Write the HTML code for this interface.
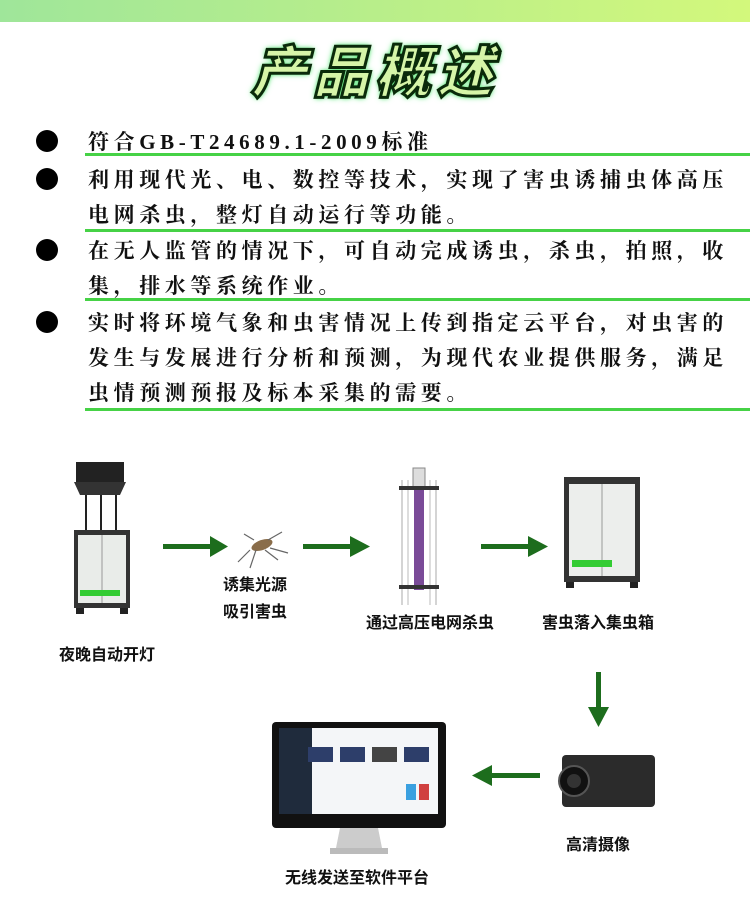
<!DOCTYPE html>
<html><head><meta charset="utf-8"><style>
body{margin:0;width:750px;height:922px;background:#fff;position:relative;overflow:hidden;font-family:"Liberation Sans","Noto Sans CJK SC",sans-serif}
.a{position:absolute}
.bar{left:0;top:0;width:750px;height:22px;background:linear-gradient(90deg,#9fe69a,#b8ee8a 50%,#d3f87c)}
.title{left:0;width:750px;top:28px;text-align:center;font-size:56px;font-weight:900;color:#d6f5a8;letter-spacing:6px;font-family:"Noto Sans CJK SC",sans-serif;font-style:italic;-webkit-text-stroke:3px #0a2a0a;text-shadow:0 0 4px #3ee060,0 0 7px #3ee060}
.dot{width:22px;height:22px;border-radius:50%;background:#000;left:36px}
.t{left:88px;font-size:21px;font-weight:bold;letter-spacing:4.6px;color:#111;font-family:"Liberation Serif","Noto Serif CJK SC",serif;white-space:nowrap}
.ul{left:85px;width:665px;height:3px;background:#46d246}
.lab{font-size:16px;font-weight:bold;color:#111;white-space:nowrap;font-family:"Liberation Sans","Noto Sans CJK SC",sans-serif}
</style></head><body>
<div class="a bar"></div>
<div class="a title">产品概述</div>

<div class="a dot" style="top:130px"></div>
<div class="a t" style="top:126px">符合GB-T24689.1-2009标准</div>
<div class="a ul" style="top:153px"></div>

<div class="a dot" style="top:168px"></div>
<div class="a t" style="top:164px">利用现代光、电、数控等技术，实现了害虫诱捕虫体高压</div>
<div class="a t" style="top:199px">电网杀虫，整灯自动运行等功能。</div>
<div class="a ul" style="top:229px"></div>

<div class="a dot" style="top:239px"></div>
<div class="a t" style="top:235px">在无人监管的情况下，可自动完成诱虫，杀虫，拍照，收</div>
<div class="a t" style="top:270px">集，排水等系统作业。</div>
<div class="a ul" style="top:298px"></div>

<div class="a dot" style="top:311px"></div>
<div class="a t" style="top:307px">实时将环境气象和虫害情况上传到指定云平台，对虫害的</div>
<div class="a t" style="top:342px">发生与发展进行分析和预测，为现代农业提供服务，满足</div>
<div class="a t" style="top:377px">虫情预测预报及标本采集的需要。</div>
<div class="a ul" style="top:408px"></div>

<svg class="a" style="left:0;top:440px" width="750" height="482" viewBox="0 440 750 482">
 <!-- lamp device -->
 <rect x="76" y="462" width="48" height="20" fill="#222"/>
 <polygon points="74,482 126,482 120,495 80,495" fill="#333"/>
 <line x1="86" y1="495" x2="86" y2="530" stroke="#222" stroke-width="2"/>
 <line x1="101" y1="495" x2="101" y2="530" stroke="#222" stroke-width="2"/>
 <line x1="116" y1="495" x2="116" y2="530" stroke="#222" stroke-width="2"/>
 <rect x="74" y="530" width="56" height="78" fill="#333"/>
 <rect x="78" y="535" width="48" height="68" fill="#e9ece9"/>
 <line x1="102" y1="535" x2="102" y2="603" stroke="#999"/>
 <rect x="80" y="590" width="40" height="6" fill="#3c3"/>
 <rect x="76" y="608" width="8" height="6" fill="#222"/><rect x="120" y="608" width="8" height="6" fill="#222"/>
 <!-- arrows -->
 <g fill="#1d6d1d">
  <rect x="163" y="544" width="50" height="5"/><polygon points="210,536 228,546.5 210,557"/>
  <rect x="303" y="544" width="50" height="5"/><polygon points="350,536 370,546.5 350,557"/>
  <rect x="481" y="544" width="50" height="5"/><polygon points="528,536 548,546.5 528,557"/>
  <rect x="596" y="672" width="5" height="40"/><polygon points="588,707 598.5,727 609,707"/>
  <rect x="490" y="773" width="50" height="5"/><polygon points="492,765 472,775.5 492,786"/>
 </g>
 <!-- mosquito -->
 <g stroke="#666" stroke-width="1.2" fill="none">
  <ellipse cx="262" cy="545" rx="11" ry="5" fill="#8a6d4a" stroke="none" transform="rotate(-20 262 545)"/>
  <path d="M250 550 L238 562 M256 550 L250 568 M265 550 L278 560 M270 548 L288 553 M254 540 L244 534 M268 540 L282 532"/>
 </g>
 <!-- killer tube -->
 <g>
  <line x1="402" y1="480" x2="402" y2="605" stroke="#aaa"/><line x1="436" y1="480" x2="436" y2="605" stroke="#aaa"/>
  <line x1="408" y1="480" x2="408" y2="605" stroke="#bbb"/><line x1="430" y1="480" x2="430" y2="605" stroke="#bbb"/>
  <rect x="413" y="468" width="12" height="20" fill="#ddd" stroke="#888"/>
  <rect x="399" y="486" width="40" height="4" fill="#333"/>
  <rect x="414" y="490" width="10" height="100" fill="#7a4b98"/>
  <rect x="399" y="585" width="40" height="4" fill="#333"/>
 </g>
 <!-- collector box -->
 <rect x="564" y="477" width="76" height="105" fill="#333"/>
 <rect x="569" y="484" width="66" height="92" fill="#eceeec"/>
 <line x1="602" y1="484" x2="602" y2="576" stroke="#999"/>
 <rect x="572" y="560" width="40" height="7" fill="#3c3"/>
 <rect x="566" y="582" width="8" height="6" fill="#222"/><rect x="630" y="582" width="8" height="6" fill="#222"/>
 <!-- monitor -->
 <rect x="272" y="722" width="174" height="106" rx="4" fill="#111"/>
 <rect x="279" y="728" width="159" height="86" fill="#f4f6f8"/>
 <rect x="279" y="728" width="33" height="86" fill="#1f2b3c"/>
 <rect x="308" y="747" width="25" height="15" fill="#2d3e6a"/><rect x="340" y="747" width="25" height="15" fill="#2d3e6a"/>
 <rect x="372" y="747" width="25" height="15" fill="#444"/><rect x="404" y="747" width="25" height="15" fill="#2d3e6a"/>
 <rect x="406" y="784" width="10" height="16" fill="#3aa0e0"/><rect x="419" y="784" width="10" height="16" fill="#d04040"/>
 <polygon points="340,828 378,828 382,848 336,848" fill="#ccc"/>
 <rect x="330" y="848" width="58" height="6" fill="#bbb"/>
 <!-- camera -->
 <rect x="562" y="755" width="93" height="52" rx="4" fill="#2b2b2b"/>
 <circle cx="574" cy="781" r="15" fill="#111" stroke="#555" stroke-width="2"/>
 <circle cx="574" cy="781" r="7" fill="#333"/>
 <!-- labels -->
 <text x="255" y="590" text-anchor="middle" class="lab" font-size="16" font-weight="bold" fill="#111" font-family="Liberation Sans, Noto Sans CJK SC, sans-serif">诱集光源</text>
 <text x="255" y="617" text-anchor="middle" font-size="16" font-weight="bold" fill="#111" font-family="Liberation Sans, Noto Sans CJK SC, sans-serif">吸引害虫</text>
 <text x="430" y="628" text-anchor="middle" font-size="16" font-weight="bold" fill="#111" font-family="Liberation Sans, Noto Sans CJK SC, sans-serif">通过高压电网杀虫</text>
 <text x="598" y="628" text-anchor="middle" font-size="16" font-weight="bold" fill="#111" font-family="Liberation Sans, Noto Sans CJK SC, sans-serif">害虫落入集虫箱</text>
 <text x="107" y="660" text-anchor="middle" font-size="16" font-weight="bold" fill="#111" font-family="Liberation Sans, Noto Sans CJK SC, sans-serif">夜晚自动开灯</text>
 <text x="598" y="850" text-anchor="middle" font-size="16" font-weight="bold" fill="#111" font-family="Liberation Sans, Noto Sans CJK SC, sans-serif">高清摄像</text>
 <text x="357" y="883" text-anchor="middle" font-size="16" font-weight="bold" fill="#111" font-family="Liberation Sans, Noto Sans CJK SC, sans-serif">无线发送至软件平台</text>
</svg>
</body></html>
